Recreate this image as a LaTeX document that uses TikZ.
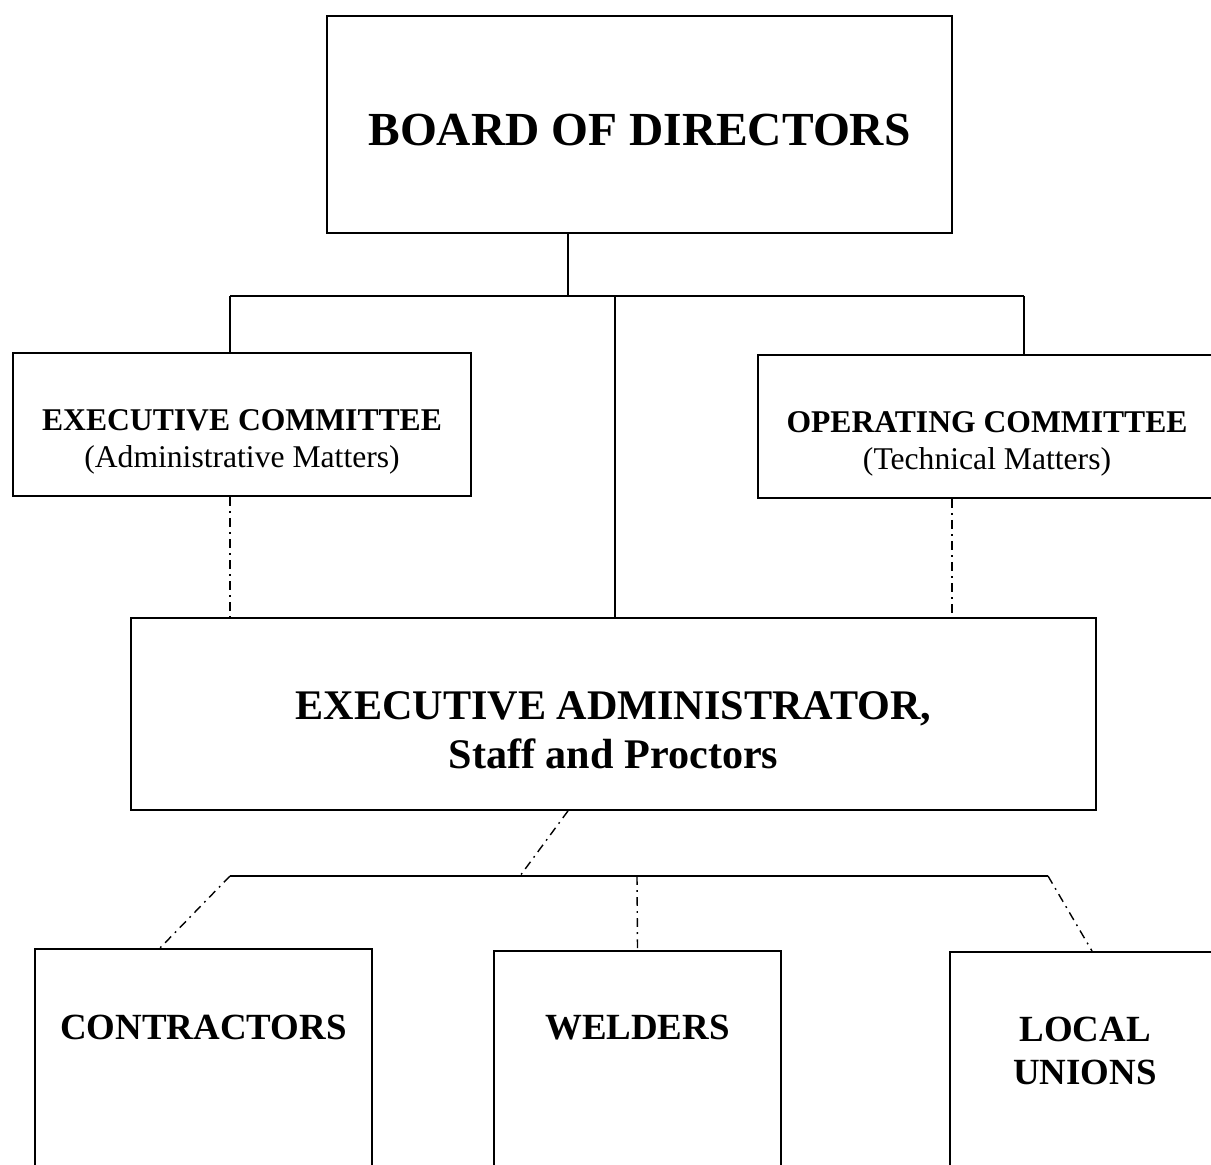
\documentclass[tikz,border=0pt]{standalone}
\usepackage{fontspec}
\setmainfont{Liberation Serif}
\usetikzlibrary{positioning}
\begin{document}
\begin{tikzpicture}[
        box/.style      = {draw, line width = 1pt, inner sep = 0pt},
        link/.style     = {line width = 1pt},
        dotlink/.style  = {line width = 0.8pt, dash pattern = on 5pt off 3pt on 1pt off 3pt},
        boardtext/.style = {font = \fontsize{27}{32}\selectfont\bfseries},
        comtext/.style  = {align = center, font = \fontsize{18}{21.5}\selectfont},
        admtext/.style  = {align = center, font = \fontsize{24}{27.8}\selectfont\bfseries},
        leaftext/.style = {align = center, font = \fontsize{21}{24.4}\selectfont\bfseries}
    ]
                \useasboundingbox (0,0) rectangle (24.22,-23.3);
                \clip (0,0) rectangle (24.22,-23.3);

                % boxes
                \node [box, minimum width = 12.5cm, minimum height = 4.34cm]  (board) at (12.79,-2.49)  {};
                \node [box, minimum width = 9.16cm, minimum height = 2.86cm]  (excom) at (4.84,-8.49)   {};
                \node [box, minimum width = 9.16cm, minimum height = 2.86cm]  (opcom) at (19.74,-8.53)  {};
                \node [box, minimum width = 19.3cm, minimum height = 3.84cm]  (admin) at (12.27,-14.28) {};

                \node [box, anchor = north, minimum width = 6.74cm, minimum height = 5cm] (contrbox) at (4.07,-18.96)  {};
                \node [box, anchor = north, minimum width = 5.74cm, minimum height = 5cm] (weldbox)  at (12.75,-19.0)  {};
                \node [box, anchor = north, minimum width = 5.4cm,  minimum height = 5cm] (unionbox) at (21.7,-19.02)  {};

                % texts
                \node [boardtext] (boardtxt) at ([yshift = -0.11cm]board.center) {BOARD OF DIRECTORS};
                \node [comtext]   (excomtxt) at ([yshift = -0.35cm]excom.center) {\textbf{EXECUTIVE COMMITTEE}\\(Administrative Matters)};
                \node [comtext]   (opcomtxt) at ([yshift = -0.35cm]opcom.center) {\textbf{OPERATING COMMITTEE}\\(Technical Matters)};
                \node [admtext]   (admintxt) at ([yshift = -0.32cm]admin.center) {EXECUTIVE ADMINISTRATOR,\\Staff and Proctors};
                \node [leaftext]  (contrtxt) at ([yshift = -1.58cm]contrbox.north) {CONTRACTORS};
                \node [leaftext]  (weldtxt)  at ([yshift = -1.56cm]weldbox.north)  {WELDERS};
                \node [leaftext]  (uniontxt) at ([yshift = -2.0cm]unionbox.north)  {LOCAL\\UNIONS};

                % upper tree
                \coordinate (trunk) at (11.36,-5.92);
                \coordinate (busL)  at (4.6,-5.92);
                \coordinate (busM)  at (12.3,-5.92);
                \coordinate (busR)  at (20.48,-5.92);

                \draw [link]    (board.south -| trunk) -- (trunk);
                \draw [link]    (busL) -- (busR);
                \draw [link]    (busL) -- (busL |- excom.north);
                \draw [link]    (busR) -- (busR |- opcom.north);
                \draw [link]    (busM) -- (busM |- admin.north);

                \draw [dotlink] (busL |- excom.south) -- (busL |- admin.north);
                \draw [dotlink] ([xshift = -0.7cm]opcom.south) -- ([xshift = -0.7cm]opcom.south |- admin.north);

                % lower tree
                \coordinate (lowL) at (4.6,-17.52);
                \coordinate (lowM) at (12.74,-17.52);
                \coordinate (lowR) at (20.96,-17.52);
                \coordinate (drop) at (10.4,-17.52);

                \draw [dotlink] ([xshift = -0.91cm]admin.south) -- (drop);
                \draw [link]    (lowL) -- (lowR);
                \draw [dotlink] (lowL) -- ([xshift = -0.87cm]contrbox.north);
                \draw [dotlink] (lowM) -- (weldbox.north);
                \draw [dotlink] (lowR) -- ([xshift = 0.14cm]unionbox.north);
            \end{tikzpicture}
\end{document}
